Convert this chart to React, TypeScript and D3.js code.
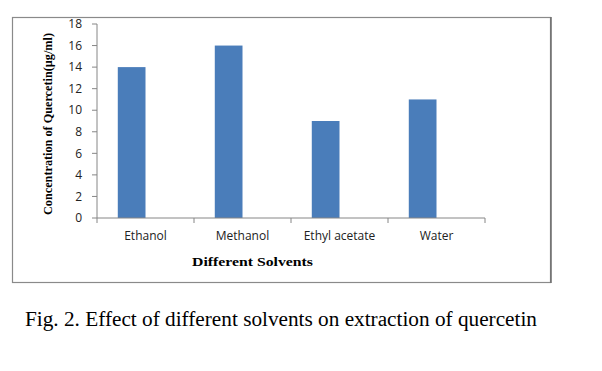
import * as d3 from "d3";

const solvents: string[] = ["Ethanol", "Methanol", "Ethyl acetate", "Water"];
const quercetin: number[] = [14, 16, 9, 11];
const seriesNames: string[] = ["Quercetin", "blank"]; // second (empty) Excel series shifts bars left
const yTicks: number[] = [0, 2, 4, 6, 8, 10, 12, 14, 16, 18];

const App = () => {
  const width = 602;
  const height = 371;
  const plot = { left: 97, right: 485, top: 24, bottom: 218 };

  const x = d3.scaleBand<string>().domain(solvents).range([plot.left, plot.right]).padding(0);
  const xInner = d3
    .scaleBand<string>()
    .domain(seriesNames)
    .range([0, x.bandwidth()])
    .paddingInner(0)
    .paddingOuter(0.75);
  const y = d3.scaleLinear().domain([0, 18]).range([plot.bottom, plot.top]);

  const axisColor = "#868686";
  const sans = "'Open Sans', Lato, sans-serif";
  const serif = "'Liberation Serif', 'Times New Roman', serif";

  const xTicks = [...solvents.map((s) => x(s)!), plot.right];

  return (
    <svg
      width={width}
      height={height}
      style={{ position: "absolute", left: 0, top: 0, background: "#fff" }}
    >
      <rect x={12.5} y={17.5} width={538} height={265} fill="#fff" stroke="#8a8a8a" strokeWidth={1.2} />
      <line x1={551} y1={17} x2={551} y2={283} stroke="#6e6e6e" strokeWidth={1.5} />

      {/* bars */}
      {quercetin.map((v, i) => (
        <rect
          key={solvents[i]}
          x={x(solvents[i])! + xInner(seriesNames[0])!}
          y={y(v)}
          width={xInner.bandwidth()}
          height={y(0) - y(v)}
          fill="#4a7dba"
        />
      ))}

      {/* y axis */}
      <line x1={plot.left} y1={plot.top} x2={plot.left} y2={plot.bottom} stroke={axisColor} />
      {yTicks.map((t) => (
        <g key={t}>
          <line x1={plot.left - 5} x2={plot.left} y1={y(t)} y2={y(t)} stroke={axisColor} />
          <text
            x={82}
            y={y(t)}
            dy="0.35em"
            textAnchor="end"
            fontFamily={sans}
            fontSize={12}
            fill="#222"
          >
            {t}
          </text>
        </g>
      ))}

      {/* x axis */}
      <line x1={plot.left} y1={plot.bottom} x2={plot.right} y2={plot.bottom} stroke={axisColor} />
      {xTicks.map((t, i) => (
        <line key={i} x1={t} x2={t} y1={plot.bottom} y2={plot.bottom + 5} stroke={axisColor} />
      ))}
      {solvents.map((s) => (
        <text
          key={s}
          x={x(s)! + x.bandwidth() / 2}
          y={240}
          textAnchor="middle"
          fontFamily={sans}
          fontSize={12}
          fill="#222"
        >
          {s}
        </text>
      ))}

      <text
        x={192}
        y={266}
        fontFamily={serif}
        fontWeight="bold"
        fontSize={13}
        textLength={121}
        lengthAdjust="spacingAndGlyphs"
        fill="#000"
      >
        Different Solvents
      </text>

      <text
        transform="translate(52,124) rotate(-90)"
        textAnchor="middle"
        fontFamily={serif}
        fontWeight="bold"
        fontSize={13}
        textLength={182}
        lengthAdjust="spacingAndGlyphs"
        fill="#000"
      >
        Concentration of Quercetin(µg/ml)
      </text>

      <text
        x={25}
        y={326}
        fontFamily={serif}
        fontSize={20}
        textLength={512}
        lengthAdjust="spacingAndGlyphs"
        fill="#000"
      >
        Fig. 2. Effect of different solvents on extraction of quercetin
      </text>
    </svg>
  );
};

export default App;
